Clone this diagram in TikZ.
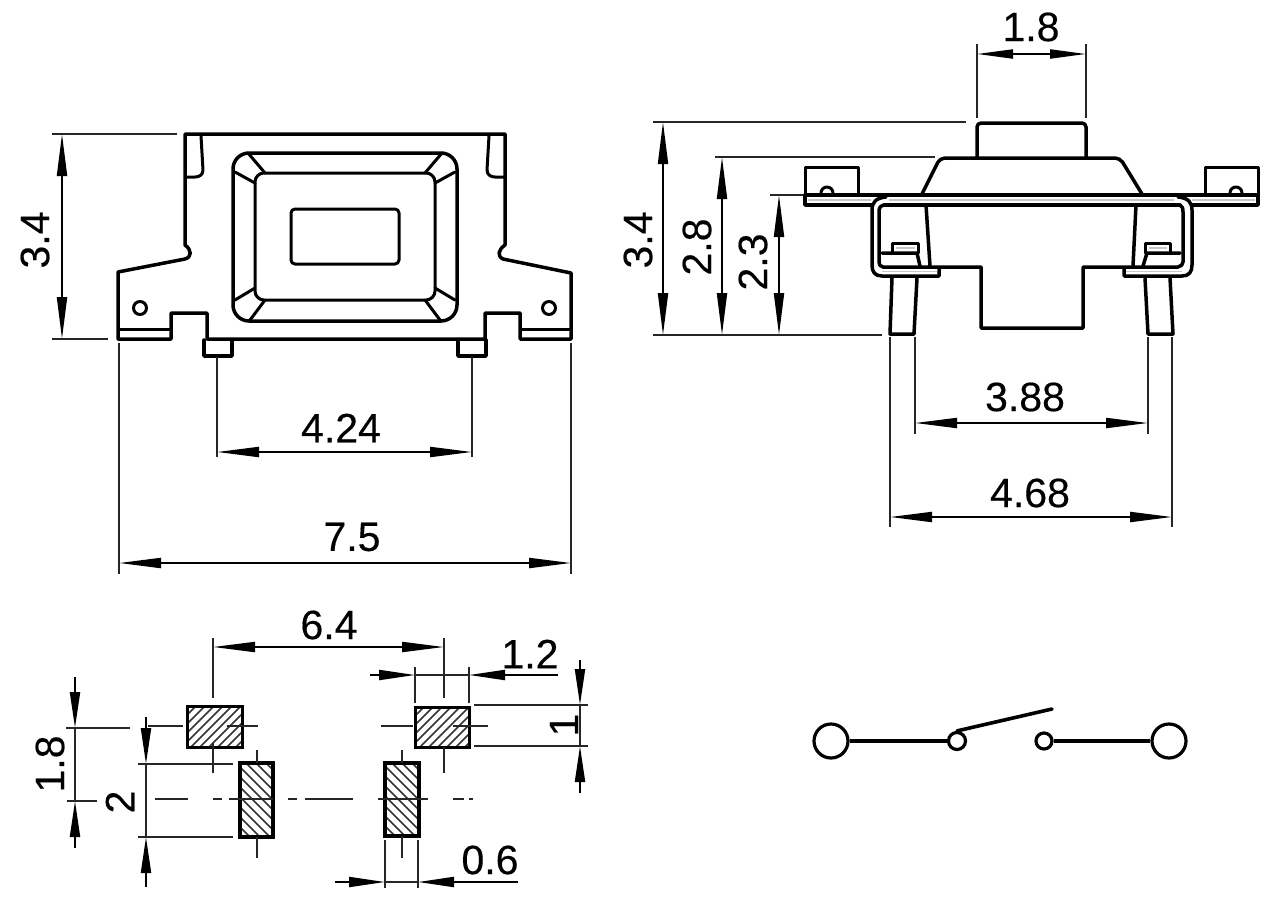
\documentclass[tikz,border=0pt]{standalone}
\usepackage{fontspec}
\setmainfont{Liberation Sans}
\newfontfamily\dimfont[FakeBold=0.35]{Liberation Sans}
\usetikzlibrary{arrows.meta}
\tikzset{
  outline/.style={line width=3.5pt,line join=round,line cap=round,black},
  thin outline/.style={line width=3pt,line join=round,line cap=round,black},
  extline/.style={line width=2pt,black!85},
  dimboth/.style={line width=2pt,black,{Stealth[length=42pt,width=10pt,inset=0pt]}-{Stealth[length=42pt,width=10pt,inset=0pt]}},
  dimshort/.style={line width=2pt,black,{Stealth[length=36pt,width=9pt,inset=0pt]}-{Stealth[length=36pt,width=9pt,inset=0pt]}},
  dimto/.style={line width=2pt,black,-{Stealth[length=36pt,width=10pt,inset=0pt]}},
  dimtxt/.style={font=\dimfont\fontsize{41}{41}\selectfont,inner sep=0pt,black},
  hatchline/.style={line width=1.7pt,black!80},
  padbox/.style={line width=3pt,black},
  center/.style={line width=2pt,black!85},
  symline/.style={line width=3.2pt,black},
  symcircle/.style={draw,circle,line width=3.2pt,inner sep=0pt,black},
}
\begin{document}
\begin{tikzpicture}[x=1pt,y=-1pt]
\useasboundingbox (0,0) rectangle (1283,905);
% ---------- left view body
\draw[outline] (185,134) -- (505,134) -- (505,245)
  .. controls (498,250) and (497,256) .. (503,259) -- (571,273) -- (571,339) -- (520,339) -- (520,313) -- (485,313) -- (485,339)
  -- (207,339) -- (207,313) -- (171,313) -- (171,339) -- (118,339) -- (118,272) -- (185,259)
  .. controls (192,257) and (192,250) .. (185,245) -- cycle;
\draw[thin outline] (201,136) -- (203,170) .. controls (203,175) and (199,177) .. (195,177) -- (186,177);
\draw[thin outline] (489,136) -- (487,170) .. controls (487,175) and (491,177) .. (495,177) -- (504,177);
\draw[thin outline] (119,329) -- (170,329) (521,329) -- (570,329);
\draw[outline] (204,340) -- (204,356) -- (232,356) -- (232,340);
\draw[outline] (458,340) -- (458,356) -- (486,356) -- (486,340);
\draw[thin outline] (140,308) circle (6.5);
\draw[thin outline] (549,308) circle (6.5);
\draw[outline,rounded corners=16pt] (233,153) rectangle (457,321);
\draw[thin outline,rounded corners=9pt] (255,173) rectangle (435,300);
\draw[thin outline,rounded corners=4pt] (291,209) rectangle (399,264);
\draw[thin outline] (248,153) -- (265,173) (235,172) -- (255,183)
  (442,153) -- (425,173) (455,172) -- (435,183)
  (235,300) -- (255,288) (250,320) -- (265,300)
  (455,300) -- (435,288) (440,320) -- (425,300);
% left view dimensions
\draw[extline] (52,134) -- (177,134) (52,339) -- (108,339);
\draw[dimboth] (62,134) -- (62,339);
\node[dimtxt,rotate=90] (ta) at (35,240) {3.4};
\draw[extline] (217,357) -- (217,457) (472,357) -- (472,457);
\draw[dimboth] (217,452) -- (472,452);
\node[dimtxt] (tb) at (341,428) {4.24};
\draw[extline] (119,343) -- (119,574) (571,343) -- (571,574);
\draw[dimboth] (119,563) -- (571,563);
\node[dimtxt] (tc) at (352,537) {7.5};
% ---------- right view
\draw[outline,rounded corners=4pt] (977,158) -- (977,123) -- (1086,123) -- (1086,158);
\draw[outline,rounded corners=5pt] (922,194) -- (940,158) -- (1120,158) -- (1142,194);
\draw[thin outline] (805,195) -- (805,167) -- (858,167) -- (858,195);
\draw[thin outline] (1205,195) -- (1205,167) -- (1258,167) -- (1258,195);
\draw[thin outline] (821,193) arc[start angle=180,end angle=360,radius=6];
\draw[thin outline] (1230,193) arc[start angle=180,end angle=360,radius=6];
\draw[outline] (805,195) -- (1258,195);
\draw[outline] (805,195) -- (805,205) -- (872,205);
\draw[outline] (1258,195) -- (1258,205) -- (1192,205);
\draw[line width=2pt,black!22] (808,200) -- (871,200) (889,200) -- (1174,200) (1192,200) -- (1255,200);
\draw[outline] (884,205) -- (1180,205);
% clips
\draw[outline] (886,197) .. controls (876,198) and (872,202) .. (872,210) -- (872,265) .. controls (872,272) and (875,276) .. (882,276) -- (939,276) -- (939,269);
\draw[outline] (884,205) .. controls (880,206) and (879,208) .. (879,212) -- (879,262) .. controls (879,265) and (880,266) .. (883,267) -- (981,267) -- (981,328) -- (1083,328) -- (1083,267) -- (1178,267) .. controls (1181,266) and (1183,265) .. (1183,262) -- (1183,212) .. controls (1183,208) and (1182,206) .. (1180,205);
\draw[outline] (1178,197) .. controls (1188,198) and (1192,202) .. (1192,210) -- (1192,265) .. controls (1192,272) and (1189,276) .. (1182,276) -- (1124,276) -- (1124,269);
\draw[line width=1.6pt,black!22] (882,271.5) -- (937,271.5) (1126,271.5) -- (1182,271.5);
\draw[outline] (926,205) -- (930,266) (1136,205) -- (1133,266);
\draw[outline] (882,253) -- (917,253) -- (920,266) (1180,253) -- (1147,253) -- (1143,266);
\draw[thin outline] (892,253) -- (892,243) -- (918,243) -- (918,253);
\draw[thin outline] (1145,253) -- (1145,243) -- (1170,243) -- (1170,253);
\draw[line width=2pt,black!22] (896,248) -- (915,248) (1149,248) -- (1167,248);
% pins
\draw[outline] (892,278) -- (890,334) -- (914,334) -- (917,278);
\draw[outline] (1145,278) -- (1148,334) -- (1173,334) -- (1170,278);
% right view dimensions
\draw[extline] (977,44) -- (977,118) (1086,44) -- (1086,118);
\draw[dimshort] (977,54) -- (1086,54);
\node[dimtxt] (td) at (1031,27) {1.8};
\draw[extline] (653,122) -- (966,122) (653,335) -- (882,335);
\draw[dimboth] (663,122) -- (663,335);
\node[dimtxt,rotate=90] (te) at (638,240) {3.4};
\draw[extline] (715,157) -- (935,157);
\draw[dimboth] (722,157) -- (722,335);
\node[dimtxt,rotate=90] (tf) at (697,247) {2.8};
\draw[extline] (770,195) -- (803,195);
\draw[dimboth] (779,195) -- (779,335);
\node[dimtxt,rotate=90] (tg) at (753,262) {2.3};
\draw[extline] (890,337) -- (890,527) (915,337) -- (915,434) (1148,337) -- (1148,434) (1172,337) -- (1172,527);
\draw[dimboth] (915,423) -- (1148,423);
\node[dimtxt] (th) at (1025,397) {3.88};
\draw[dimboth] (890,517) -- (1172,517);
\node[dimtxt] (ti) at (1030,493) {4.68};
% ---------- footprint pads
\begin{scope}
\clip (187,706) rectangle (242,747);
\foreach \k in {0,...,11}{\draw[hatchline] (138+\k*9,755) -- ++(60,-60);}
\end{scope}
\begin{scope}
\clip (415,707) rectangle (469,747);
\foreach \k in {0,...,11}{\draw[hatchline] (367+\k*9,755) -- ++(60,-60);}
\end{scope}
\begin{scope}
\clip (240,763) rectangle (273,837);
\foreach \k in {0,...,11}{\draw[hatchline] (158+\k*10,755) -- ++(90,90);}
\end{scope}
\begin{scope}
\clip (385,763) rectangle (419,836);
\foreach \k in {0,...,11}{\draw[hatchline] (304+\k*10,755) -- ++(90,90);}
\end{scope}
\draw[padbox] (187,706) rectangle (242,747);
\draw[padbox] (415,707) rectangle (469,747);
\draw[line width=3.6pt] (240,763) rectangle (273,837);
\draw[line width=3.6pt] (385,763) rectangle (419,836);
% centre lines
\draw[center] (213,638) -- (213,698) (213,743) -- (213,773);
\draw[center] (444,638) -- (444,698) (444,747) -- (444,773);
\draw[center] (148,726) -- (183,726) (227,726) -- (258,726);
\draw[center] (381,726) -- (413,726) (453,726) -- (488,726);
\draw[center] (257,750) -- (257,763) (257,837) -- (257,858);
\draw[center] (402,750) -- (402,763) (402,836) -- (402,858);
\draw[center] (155,799) -- (188,799) (213,799) -- (222,799) (229,799) -- (273,799) (288,799) -- (297,799)
  (305,799) -- (353,799) (378,799) -- (428,799) (453,799) -- (464,799) (469,799) -- (473,799);
% footprint dimensions
\draw[dimboth] (213,647) -- (444,647);
\node[dimtxt] (tj) at (329,625) {6.4};
\draw[extline] (415,667) -- (415,703) (469,667) -- (469,703);
\draw[dimto] (370,675) -- (415,675);
\draw[extline] (415,675) -- (469,675);
\draw[dimto] (558,675) -- (469,675);
\node[dimtxt] (tk) at (530,654) {1.2};
\draw[extline] (474,705) -- (588,705) (474,746) -- (588,746);
\draw[dimto] (580,660) -- (580,705);
\draw[extline] (580,705) -- (580,746);
\draw[dimto] (580,793) -- (580,746);
\node[dimtxt,rotate=90] (tl) at (564,725) {1};
\draw[extline] (66,728) -- (130,728) (67,801) -- (97,801);
\draw[dimto] (75,677) -- (75,728);
\draw[extline] (75,728) -- (75,801);
\draw[dimto] (75,848) -- (75,801);
\node[dimtxt,rotate=90] (tm) at (50,764) {1.8};
\draw[extline] (138,764) -- (233,764) (138,837) -- (233,837);
\draw[dimto] (146,717) -- (146,764);
\draw[extline] (146,764) -- (146,837);
\draw[dimto] (146,887) -- (146,837);
\node[dimtxt,rotate=90] (tn) at (120,802) {2};
\draw[extline] (385,840) -- (385,888) (418,840) -- (418,888);
\draw[dimto] (335,882) -- (385,882);
\draw[extline] (385,882) -- (418,882);
\draw[dimto] (518,882) -- (418,882);
\node[dimtxt] (to) at (490,860) {0.6};
% ---------- switch symbol
\node[symcircle,minimum size=34pt] (s1) at (831,741) {};
\node[symcircle,minimum size=17pt] (s2) at (957,741) {};
\node[symcircle,minimum size=16pt] (s3) at (1044,741) {};
\node[symcircle,minimum size=34pt] (s4) at (1169,741) {};
\coordinate (armend) at (1052,709);
\draw[symline] (s1) -- (s2);
\draw[symline] (s3) -- (s4);
\draw[line width=3.6pt,line cap=round] (s2.90) -- (armend);
\end{tikzpicture}
\end{document}
